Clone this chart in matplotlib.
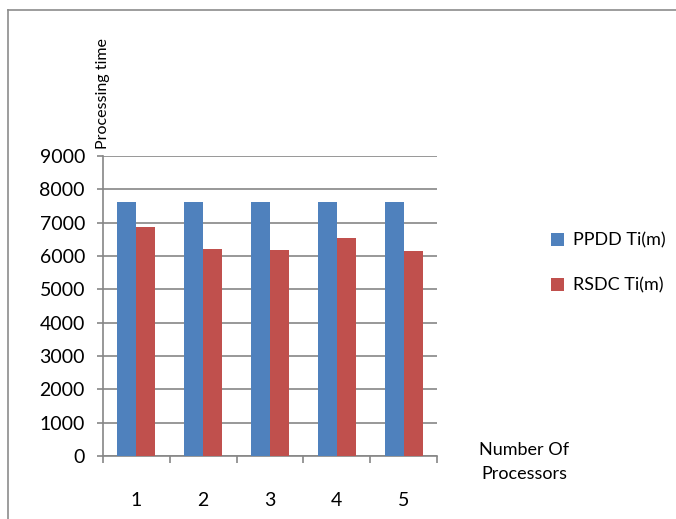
import matplotlib
matplotlib.use('Agg')
import matplotlib.pyplot as plt
from matplotlib.lines import Line2D
import numpy as np

# Processing time per processor count
processors = ['1', '2', '3', '4', '5']
ppdd_time = [7620, 7620, 7620, 7620, 7620]
rsdc_time = [6860, 6200, 6190, 6530, 6140]
series_names = ['PPDD Ti(m)', 'RSDC Ti(m)']
yticks = [0, 1000, 2000, 3000, 4000, 5000, 6000, 7000, 8000, 9000]

plt.rcParams['font.family'] = ['Lato', 'DejaVu Sans']

fig = plt.figure(figsize=(6.76, 5.19), dpi=100)
fig.patch.set_linewidth(0)
ax = fig.add_axes([103 / 676, 1 - 456 / 519, 334 / 676, 300 / 519])

grid_col = '#868686'
blue = '#4f81bd'
red = '#c0504d'

# outer chart frame: only the top and left edges fall inside the image
fy = 1 - 10 / 519
fx = 8 / 676
fig.lines.append(Line2D([fx, 1.0], [fy, fy], transform=fig.transFigure,
                        color='#8c8c8c', linewidth=1.2))
fig.lines.append(Line2D([fx, fx], [0.0, fy], transform=fig.transFigure,
                        color='#8c8c8c', linewidth=1.2))

x = np.arange(len(processors))
w = 0.285
ax.bar(x - w / 2, ppdd_time, w, color=blue, label=series_names[0], zorder=3)
ax.bar(x + w / 2, rsdc_time, w, color=red, label=series_names[1], zorder=3)

ax.set_xlim(-0.5, len(processors) - 0.5)
ax.set_ylim(0, 9000)
ax.set_yticks(yticks)
ax.yaxis.grid(True, color=grid_col, linewidth=1.2, zorder=0)
ax.set_axisbelow(True)

# category boundary ticks on the x axis, labels placed lower
ax.set_xticks(np.arange(-0.5, len(processors)))
ax.set_xticklabels([])
ax.tick_params(axis='x', direction='out', length=5, color=grid_col, width=1.2)
for i, lab in enumerate(processors):
    ax.text(i, -0.15, lab, transform=ax.get_xaxis_transform(),
            ha='center', va='center', fontsize=14)

ax.tick_params(axis='y', direction='out', length=4, color=grid_col, width=1.2,
               labelsize=14, pad=9)
for s in ['top', 'right']:
    ax.spines[s].set_visible(False)
for s in ['left', 'bottom']:
    ax.spines[s].set_color(grid_col)
    ax.spines[s].set_linewidth(1.2)

fig.text(103 / 676, 1 - 149 / 519, 'Processing time', rotation=90,
         ha='center', va='bottom', fontsize=11.5)
fig.text(524 / 676, 1 - 462 / 519, 'Number Of\nProcessors', ha='center',
         va='center', fontsize=13, linespacing=1.6)

fig.legend(loc='center left', bbox_to_anchor=(535 / 676, 1 - 263 / 519),
           frameon=False, fontsize=13, handlelength=0.7, handleheight=0.7,
           labelspacing=1.6, handletextpad=0.5)

plt.savefig('out.png', dpi=100, facecolor='white')
plt.close()
